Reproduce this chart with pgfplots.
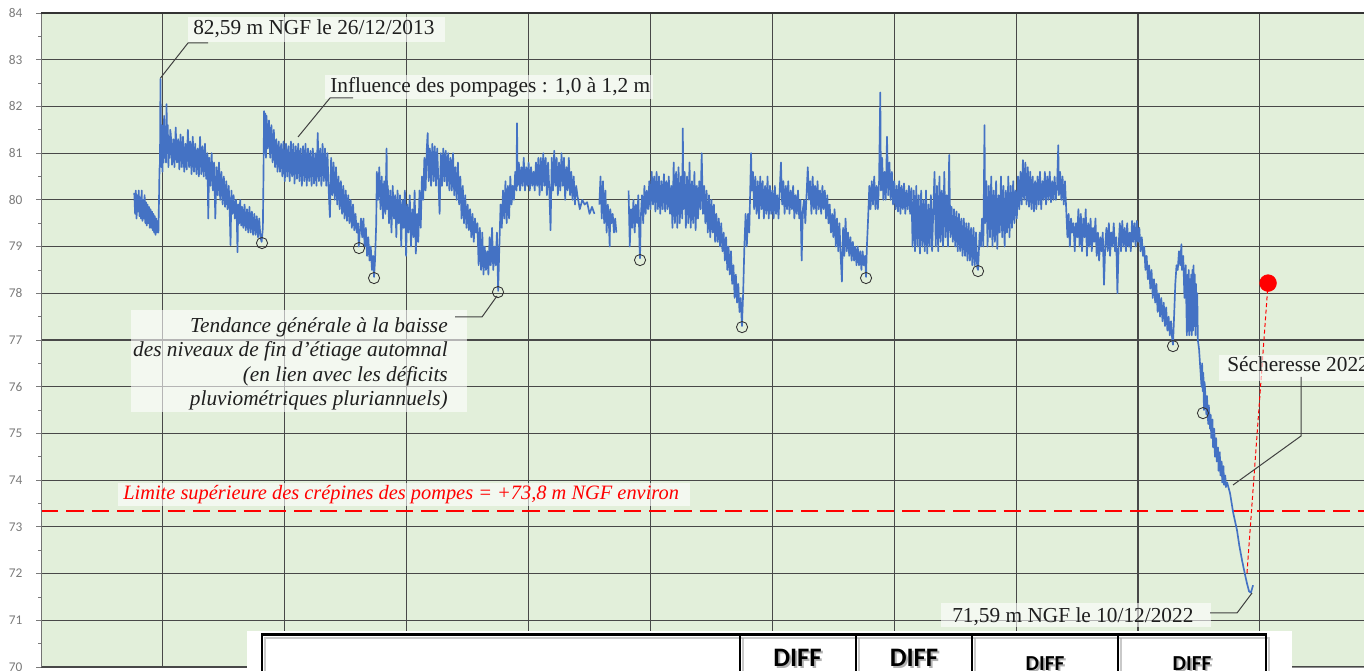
\documentclass[border=0pt]{standalone}
\usepackage{pgfplots}
\pgfplotsset{compat=1.18}
\usepackage{fontspec}
\setmainfont{Liberation Serif}
\newfontfamily\carlito{Carlito}
\definecolor{bgc}{HTML}{E2EFDA}
\definecolor{serie}{HTML}{4472C4}
\definecolor{gridc}{HTML}{484848}
\definecolor{tickc}{HTML}{7A7A7A}
\begin{document}
\begin{tikzpicture}
\path[use as bounding box] (0,0) rectangle (1023pt,503.25pt);
\begin{axis}[
  at={(30.75pt,3pt)}, anchor=south west,
  width=992.25pt, height=490.5pt, scale only axis,
  xmin=2013, xmax=2023.853, ymin=70, ymax=84,
  axis background/.style={fill=bgc},
  axis line style={draw=none},
  xtick={2014,...,2023}, xticklabels={}, xtick style={draw=none},
  ytick={70,...,84}, minor y tick num=1,
  xmajorgrids, ymajorgrids,
  major grid style={gridc, line width=0.85pt},
  tick align=outside,
  ytick style={tickc, line width=0.6pt},
  major tick length=3.75pt, minor tick length=2.25pt,
  yticklabel style={font=\carlito\fontsize{10}{12}\selectfont, text=tickc, anchor=east, inner sep=0pt, xshift=-10pt},
  /pgf/number format/assume math mode=true,
  unbounded coords=jump,
  clip=true,
]
% red dashed limit line
\addplot[red, line width=1.1pt, dash pattern=on 13pt off 6pt] coordinates {(2013,73.34)(2023.853,73.34)};
% water level series
\addplot[serie, line width=1.25pt, line join=round] coordinates {
(2013.765,80.15)(2013.772,79.7)(2013.778,80.2)(2013.784,79.6)(2013.79,80.1)(2013.796,79.75)(2013.802,80.2)(2013.808,79.65)(2013.814,80.05)(2013.82,79.6)(2013.826,80.2)(2013.832,79.55)(2013.838,80.0)(2013.844,79.6)(2013.85,80.1)(2013.856,79.5)(2013.862,79.95)(2013.868,79.45)(2013.874,79.9)(2013.88,79.5)(2013.886,79.85)(2013.892,79.4)(2013.898,79.8)(2013.904,79.4)(2013.91,79.75)(2013.916,79.35)(2013.922,79.7)(2013.928,79.3)(2013.934,79.65)(2013.94,79.25)(2013.946,79.6)(2013.952,79.3)(2013.958,79.55)(2013.963,79.3)
(2013.968,80.0)(2013.972,80.65)(2013.976,80.8)(2013.98,82.59)(2013.984,81.3)(2013.988,80.7)(2013.992,81.6)(2013.996,80.6)(2014.0,81.2)(2014.005,80.8)(2014.01,81.8)(2014.015,80.9)(2014.02,81.4)(2014.025,80.8)(2014.03,82.05)(2014.035,81.0)(2014.04,81.6)(2014.045,80.7)(2014.05,81.3)(2014.055,80.9)(2014.06,81.5)
(2014.065,81.4)(2014.075,80.75)(2014.085,81.3)(2014.095,80.7)(2014.105,81.55)(2014.115,80.8)(2014.125,81.3)(2014.135,80.65)(2014.145,81.4)(2014.155,80.7)(2014.165,81.35)(2014.175,80.6)(2014.185,81.2)(2014.195,80.65)(2014.205,81.5)(2014.215,80.7)(2014.225,81.25)(2014.235,80.55)(2014.245,81.35)(2014.255,80.6)(2014.265,81.2)(2014.275,80.55)(2014.285,81.1)(2014.295,80.5)(2014.305,81.35)(2014.315,80.55)(2014.325,81.15)(2014.335,80.5)(2014.345,81.2)(2014.355,80.45)(2014.365,81.0)(2014.372,79.6)(2014.38,80.9)(2014.39,80.3)(2014.4,81.0)(2014.41,80.2)(2014.42,80.8)(2014.43,79.6)(2014.44,80.7)(2014.45,80.1)(2014.46,80.8)(2014.47,80.0)(2014.48,80.6)(2014.49,79.9)(2014.5,80.5)(2014.51,79.85)(2014.52,80.4)(2014.53,79.8)(2014.54,80.3)(2014.548,79.75)(2014.555,79.03)(2014.562,80.2)(2014.57,79.7)(2014.58,80.1)(2014.59,79.6)(2014.6,80.0)(2014.607,79.5)(2014.612,78.88)(2014.618,79.9)(2014.626,79.5)(2014.634,80.0)(2014.642,79.45)(2014.65,79.85)(2014.66,79.4)(2014.67,79.9)(2014.68,79.35)(2014.69,79.8)(2014.7,79.3)(2014.71,79.85)(2014.72,79.3)(2014.73,79.75)(2014.74,79.25)(2014.75,79.7)(2014.76,79.25)(2014.77,79.65)(2014.78,79.2)(2014.79,79.6)(2014.8,79.2)(2014.81,79.1)
(2014.82,79.4)(2014.825,80.5)(2014.83,81.9)(2014.835,81.0)(2014.84,81.85)(2014.845,80.9)(2014.85,81.8)(2014.86,81.1)(2014.87,81.7)(2014.88,80.9)(2014.89,81.6)(2014.9,80.8)(2014.91,81.5)(2014.92,80.7)(2014.93,81.3)(2014.94,80.6)(2014.95,81.25)(2014.96,80.6)(2014.97,81.2)(2014.98,80.5)(2014.99,81.25)(2015.0,80.4)(2015.01,81.2)(2015.02,80.5)(2015.03,81.15)(2015.04,80.4)(2015.05,81.25)(2015.06,80.5)(2015.07,81.2)(2015.08,80.35)(2015.09,81.15)(2015.1,80.45)(2015.11,81.2)(2015.12,80.4)(2015.13,81.1)(2015.14,80.3)(2015.15,81.15)(2015.16,80.4)(2015.17,81.2)(2015.18,80.3)(2015.19,81.1)(2015.2,80.4)(2015.21,81.05)(2015.22,80.3)(2015.23,81.1)(2015.24,80.35)(2015.25,81.0)(2015.26,80.3)(2015.27,81.43)(2015.28,80.4)(2015.29,81.1)(2015.3,80.3)(2015.31,81.2)(2015.32,80.4)(2015.33,81.1)(2015.34,80.3)(2015.35,81.0)(2015.36,80.2)(2015.37,79.63)(2015.38,80.9)(2015.39,80.1)(2015.4,80.8)(2015.41,80.0)(2015.42,80.7)(2015.43,79.9)(2015.44,80.5)(2015.45,79.8)(2015.46,80.4)(2015.47,79.7)(2015.48,80.3)(2015.49,79.6)(2015.5,80.2)(2015.51,79.55)(2015.52,80.1)(2015.53,79.5)(2015.54,80.0)(2015.55,79.4)(2015.56,79.9)(2015.57,79.35)(2015.58,79.7)(2015.59,79.3)(2015.6,79.5)(2015.607,79.0)
(2015.615,79.3)(2015.625,79.6)(2015.635,79.2)(2015.645,79.6)(2015.655,79.0)(2015.665,79.4)(2015.675,78.8)(2015.685,79.2)(2015.695,78.7)(2015.705,79.0)(2015.715,78.5)(2015.725,78.8)(2015.732,78.35)(2015.74,78.7)(2015.75,79.5)(2015.755,80.6)(2015.765,80.0)(2015.775,80.7)(2015.785,79.8)(2015.795,80.5)(2015.805,79.6)(2015.815,80.4)(2015.825,79.7)(2015.835,81.1)(2015.84,79.8)
(2015.845,80.3)(2015.855,79.5)(2015.865,80.2)(2015.875,79.3)(2015.885,80.3)(2015.895,79.6)(2015.905,80.1)(2015.915,79.2)(2015.925,80.2)(2015.935,79.5)(2015.945,80.1)(2015.955,79.0)(2015.965,80.0)(2015.975,79.4)(2015.985,80.2)(2015.995,78.8)(2016.005,79.9)(2016.015,79.3)(2016.025,80.1)(2016.035,79.0)(2016.045,79.8)(2016.055,79.2)(2016.065,80.2)(2016.075,78.85)(2016.085,79.7)(2016.095,79.1)(2016.105,80.2)(2016.115,79.4)(2016.125,80.5)(2016.135,80.0)(2016.145,80.9)(2016.155,80.2)(2016.165,81.1)(2016.172,81.43)(2016.18,80.4)(2016.19,81.1)(2016.2,80.3)(2016.21,81.2)(2016.22,80.4)(2016.23,81.15)(2016.24,80.3)(2016.25,81.1)(2016.26,80.4)(2016.27,79.7)(2016.28,81.0)(2016.29,80.3)(2016.3,81.1)(2016.31,80.4)(2016.32,81.05)(2016.33,80.3)(2016.34,81.0)(2016.35,80.2)(2016.36,80.9)(2016.37,80.2)(2016.38,81.0)(2016.39,80.1)(2016.4,80.7)(2016.41,80.0)(2016.42,80.8)(2016.43,79.9)(2016.44,80.5)(2016.45,79.6)(2016.46,80.3)(2016.47,79.5)(2016.48,80.1)(2016.49,79.4)(2016.5,79.9)(2016.51,79.35)(2016.52,79.8)(2016.53,79.2)(2016.54,79.7)(2016.55,79.1)(2016.56,79.6)(2016.57,79.3)(2016.58,79.5)(2016.59,78.6)(2016.6,79.4)(2016.61,78.5)(2016.62,79.3)(2016.63,78.4)(2016.64,79.0)(2016.65,78.5)(2016.66,78.9)(2016.67,78.4)(2016.68,79.2)(2016.69,78.6)(2016.7,79.4)(2016.71,78.5)(2016.72,79.0)(2016.73,78.6)(2016.74,79.3)(2016.75,78.05)(2016.76,79.0)(2016.77,79.9)(2016.78,79.4)(2016.79,80.2)(2016.8,79.6)(2016.81,80.4)(2016.82,79.5)(2016.83,80.3)(2016.84,79.6)(2016.85,80.5)(2016.86,79.9)(2016.87,80.3)(2016.88,80.0)(2016.89,80.6)(2016.9,80.2)(2016.905,81.64)(2016.91,80.3)(2016.92,80.8)(2016.93,80.2)(2016.94,80.7)(2016.95,80.3)(2016.96,80.9)(2016.97,80.2)(2016.98,80.7)(2016.99,80.3)(2017.0,80.8)(2017.01,80.2)(2017.02,80.7)(2017.03,80.3)(2017.04,80.6)(2017.05,80.2)(2017.06,80.8)(2017.07,80.3)(2017.08,80.9)(2017.09,80.1)(2017.1,80.9)(2017.11,80.2)(2017.12,81.0)(2017.13,80.3)(2017.14,80.9)(2017.15,80.1)(2017.16,80.8)(2017.17,80.2)(2017.18,79.35)(2017.19,80.9)(2017.2,80.2)(2017.21,81.05)(2017.22,80.3)(2017.23,80.9)(2017.24,80.1)(2017.25,80.8)(2017.26,80.2)(2017.27,81.0)(2017.28,80.3)(2017.29,80.9)(2017.3,80.0)(2017.31,80.7)(2017.32,80.2)(2017.33,80.9)(2017.34,80.1)(2017.35,80.6)(2017.36,80.0)(2017.37,80.5)(2017.38,79.9)(2017.39,80.3)(2017.4,80.1)(2017.42,79.8)(2017.44,80.0)(2017.46,79.9)(2017.48,79.95)(2017.5,79.7)(2017.52,79.85)(2017.54,79.7)
(2017.55,nan)
(2017.58,79.9)(2017.59,80.5)(2017.6,79.6)(2017.61,80.4)(2017.62,79.5)(2017.63,80.2)(2017.64,79.3)(2017.65,79.9)(2017.66,79.4)(2017.665,79.0)(2017.67,79.8)(2017.68,79.5)(2017.69,79.7)(2017.7,79.3)(2017.71,79.6)(2017.72,79.3)
(2017.75,nan)
(2017.82,80.2)(2017.83,79.0)(2017.84,79.8)(2017.85,79.4)(2017.86,80.0)(2017.87,79.3)(2017.88,79.9)(2017.89,79.5)(2017.9,80.1)(2017.91,79.0)(2017.914,78.75)(2017.92,79.6)(2017.93,80.1)(2017.94,79.5)(2017.95,80.3)(2017.96,79.7)(2017.97,80.2)(2017.98,79.8)(2017.99,80.4)(2018.0,79.8)(2018.01,80.6)(2018.02,79.9)(2018.03,80.5)(2018.04,79.75)(2018.05,80.6)(2018.06,79.8)(2018.07,80.5)(2018.08,79.7)(2018.09,80.4)(2018.1,79.8)(2018.11,80.55)(2018.12,79.75)(2018.13,80.4)(2018.14,79.8)(2018.15,80.5)(2018.16,79.7)(2018.17,80.3)(2018.18,79.4)(2018.19,80.8)(2018.2,79.5)(2018.21,80.6)(2018.22,79.4)(2018.23,80.7)(2018.24,79.5)(2018.25,80.5)(2018.26,79.6)(2018.265,81.53)(2018.27,79.8)(2018.28,80.6)(2018.29,79.4)(2018.3,80.5)(2018.31,79.5)(2018.32,80.8)(2018.33,79.4)(2018.34,80.4)(2018.35,79.5)(2018.36,80.6)(2018.37,79.35)(2018.38,80.3)(2018.39,79.6)(2018.4,80.4)(2018.41,79.8)(2018.42,81.0)(2018.43,79.7)(2018.44,80.3)(2018.45,79.5)(2018.46,80.2)(2018.47,79.3)(2018.48,80.1)(2018.49,79.2)(2018.5,80.0)(2018.51,79.3)(2018.52,79.9)(2018.53,79.1)(2018.54,79.7)(2018.55,79.1)(2018.56,79.6)(2018.57,79.0)(2018.58,79.5)(2018.59,78.9)(2018.6,79.3)(2018.61,78.7)(2018.62,79.2)(2018.63,78.5)(2018.64,79.0)(2018.65,78.4)(2018.66,78.9)(2018.67,78.2)(2018.68,78.6)(2018.69,77.9)(2018.7,78.4)(2018.71,77.8)(2018.72,78.2)(2018.73,77.6)(2018.74,77.9)(2018.75,77.3)(2018.76,78.0)(2018.77,79.0)(2018.78,79.7)(2018.79,79.0)(2018.8,79.7)(2018.81,79.3)(2018.825,81.0)(2018.83,80.2)(2018.84,80.6)(2018.85,79.8)(2018.86,80.5)(2018.87,79.7)(2018.88,80.4)(2018.89,79.6)(2018.9,80.5)(2018.91,79.8)(2018.92,80.4)(2018.93,79.6)(2018.94,80.3)(2018.95,79.7)(2018.96,80.5)(2018.97,79.6)(2018.98,80.3)(2018.99,79.7)(2019.0,80.2)(2019.01,79.6)(2019.02,80.3)(2019.03,79.7)(2019.04,80.1)(2019.05,79.6)(2019.06,80.2)(2019.07,80.8)(2019.08,79.9)(2019.09,80.4)(2019.1,79.7)(2019.11,80.3)(2019.12,79.8)(2019.13,80.4)(2019.14,79.7)(2019.15,80.2)(2019.16,79.8)(2019.17,80.3)(2019.18,79.6)(2019.19,80.1)(2019.2,79.7)(2019.21,80.2)(2019.22,79.6)(2019.23,80.0)(2019.24,78.7)(2019.25,79.8)(2019.26,80.0)(2019.27,79.5)(2019.28,80.1)(2019.29,80.7)(2019.3,80.0)(2019.31,80.4)(2019.32,79.7)(2019.33,80.5)(2019.34,79.8)(2019.35,80.3)(2019.36,79.7)(2019.37,80.4)(2019.38,79.8)(2019.39,80.2)(2019.4,79.7)(2019.41,80.3)(2019.42,79.8)(2019.43,80.2)(2019.44,79.6)(2019.45,80.1)(2019.46,79.5)(2019.47,79.9)(2019.48,79.3)(2019.49,79.7)(2019.5,79.2)(2019.51,79.8)(2019.52,79.0)(2019.53,79.6)(2019.54,78.9)(2019.55,79.5)(2019.56,78.8)(2019.57,78.25)(2019.58,79.4)(2019.59,78.8)(2019.6,79.6)(2019.61,78.9)(2019.62,79.3)(2019.63,78.8)(2019.64,79.2)(2019.65,78.7)(2019.66,79.1)(2019.67,78.7)(2019.68,79.0)(2019.69,78.6)(2019.7,79.0)(2019.71,78.6)(2019.72,78.9)(2019.73,78.5)(2019.74,78.9)(2019.75,78.6)(2019.76,78.8)(2019.768,78.35)(2019.775,79.0)(2019.785,79.6)(2019.795,80.3)(2019.805,79.8)(2019.815,80.4)(2019.825,79.9)(2019.835,80.5)(2019.845,79.8)(2019.855,80.3)(2019.865,79.8)(2019.875,80.4)(2019.885,82.3)(2019.89,80.2)(2019.9,80.9)(2019.91,80.0)(2019.92,80.6)(2019.93,80.0)(2019.94,81.35)(2019.95,80.1)(2019.96,80.8)(2019.97,80.0)(2019.98,80.6)(2019.99,79.9)(2020.0,80.4)(2020.01,79.8)(2020.02,80.3)(2020.03,79.75)(2020.04,80.4)(2020.05,79.7)(2020.06,80.3)(2020.07,79.8)(2020.08,80.35)(2020.09,79.7)(2020.1,80.2)(2020.11,79.8)(2020.12,80.3)(2020.13,79.7)(2020.14,80.25)(2020.15,79.0)(2020.16,80.2)(2020.17,78.9)(2020.18,80.3)(2020.19,79.0)(2020.2,80.1)(2020.21,78.85)(2020.22,80.2)(2020.23,79.0)(2020.24,80.0)(2020.25,78.9)(2020.26,80.2)(2020.27,78.85)(2020.28,79.9)(2020.29,79.0)(2020.3,80.1)(2020.31,78.9)(2020.32,79.8)(2020.33,80.6)(2020.34,79.0)(2020.35,80.3)(2020.36,78.9)(2020.37,80.5)(2020.38,79.1)(2020.39,80.2)(2020.4,79.0)(2020.41,80.6)(2020.42,79.2)(2020.43,80.1)(2020.44,79.0)(2020.45,80.96)(2020.46,79.2)(2020.47,79.85)(2020.48,79.1)(2020.49,79.8)(2020.5,79.0)(2020.51,79.75)(2020.52,78.9)(2020.53,79.7)(2020.54,78.9)(2020.55,79.6)(2020.56,78.8)(2020.57,79.6)(2020.58,78.8)(2020.59,79.5)(2020.6,78.7)(2020.61,79.5)(2020.62,78.7)(2020.63,79.4)(2020.64,78.6)(2020.65,79.4)(2020.66,78.6)(2020.67,79.3)(2020.68,78.55)(2020.687,78.5)(2020.7,79.3)(2020.71,79.0)(2020.72,79.6)(2020.73,79.0)(2020.74,81.6)(2020.745,79.5)(2020.755,80.4)(2020.765,79.0)(2020.775,80.3)(2020.785,79.2)(2020.795,80.5)(2020.805,79.0)(2020.815,80.2)(2020.825,79.1)(2020.835,80.4)(2020.845,78.95)(2020.855,80.1)(2020.865,79.3)(2020.875,80.5)(2020.885,79.2)(2020.895,80.3)(2020.905,79.0)(2020.915,80.2)(2020.925,79.3)(2020.935,80.5)(2020.945,79.2)(2020.955,80.3)(2020.965,79.4)(2020.975,80.4)(2020.985,79.5)(2020.995,80.2)(2021.005,79.6)(2021.015,80.5)(2021.025,79.8)(2021.035,80.6)(2021.045,79.9)(2021.055,80.85)(2021.065,80.0)(2021.075,80.8)(2021.085,79.9)(2021.095,80.7)(2021.105,79.85)(2021.115,80.6)(2021.125,79.8)(2021.135,80.5)(2021.145,79.75)(2021.155,80.4)(2021.165,79.8)(2021.175,80.5)(2021.185,79.9)(2021.195,80.6)(2021.205,79.8)(2021.215,80.4)(2021.225,80.0)(2021.235,80.6)(2021.245,79.9)(2021.255,80.5)(2021.265,80.0)(2021.275,80.6)(2021.285,79.95)(2021.295,80.4)(2021.305,80.0)(2021.315,80.5)(2021.325,80.0)(2021.335,80.3)(2021.345,81.17)(2021.35,80.1)(2021.36,80.6)(2021.37,80.0)(2021.38,80.5)(2021.39,79.9)(2021.4,80.4)(2021.41,79.8)(2021.42,79.2)(2021.43,79.7)(2021.44,79.0)(2021.45,79.6)(2021.46,79.3)(2021.47,79.5)(2021.48,78.9)(2021.49,79.5)(2021.5,79.2)(2021.51,79.8)(2021.52,79.0)(2021.53,79.7)(2021.54,78.9)(2021.55,79.6)(2021.56,79.2)(2021.57,79.8)(2021.58,78.8)(2021.59,79.5)(2021.6,79.0)(2021.61,79.6)(2021.62,78.9)(2021.63,79.4)(2021.64,79.1)(2021.65,79.6)(2021.66,78.8)(2021.67,79.3)(2021.68,78.7)(2021.69,79.2)(2021.7,78.9)(2021.71,79.3)(2021.72,78.18)(2021.73,79.0)(2021.74,79.4)(2021.75,78.9)(2021.76,79.5)(2021.77,78.8)(2021.78,79.3)(2021.79,79.0)(2021.8,79.5)(2021.81,78.9)(2021.82,79.2)(2021.83,78.0)(2021.84,79.0)(2021.85,79.5)(2021.86,78.9)(2021.87,79.55)(2021.88,79.0)(2021.89,79.4)(2021.9,78.9)(2021.91,79.5)(2021.92,79.0)(2021.93,79.3)(2021.94,78.9)(2021.95,79.55)(2021.96,79.1)(2021.97,79.5)(2021.98,79.0)(2021.99,79.55)(2022.0,79.1)(2022.01,79.4)(2022.02,78.9)(2022.03,79.2)(2022.04,78.8)(2022.05,79.0)(2022.06,78.5)(2022.07,78.8)(2022.08,78.3)(2022.09,78.6)(2022.1,78.1)(2022.11,78.5)(2022.12,77.9)(2022.13,78.3)(2022.14,77.8)(2022.15,78.2)(2022.16,77.6)(2022.17,78.0)(2022.18,77.5)(2022.19,77.9)(2022.2,77.4)(2022.21,77.8)(2022.22,77.3)(2022.23,77.7)(2022.24,77.2)(2022.25,77.5)(2022.26,77.1)(2022.27,77.4)(2022.28,77.0)(2022.286,76.9)(2022.295,77.5)(2022.305,78.2)(2022.315,78.6)(2022.325,78.5)(2022.335,78.9)(2022.345,78.6)(2022.355,79.05)(2022.36,78.5)(2022.37,78.8)(2022.38,77.9)(2022.39,78.6)(2022.4,77.1)(2022.405,78.4)(2022.41,77.2)(2022.415,78.5)(2022.42,77.1)(2022.425,78.3)(2022.43,77.2)(2022.435,78.4)(2022.44,77.1)(2022.445,78.5)(2022.45,77.2)(2022.455,78.6)(2022.46,77.3)(2022.465,78.4)(2022.47,77.1)(2022.475,78.2)(2022.48,77.3)(2022.485,78.0)(2022.49,77.0)
(2022.5,76.8)(2022.51,76.4)(2022.52,76.0)(2022.525,76.5)(2022.53,75.9)(2022.535,76.3)(2022.54,75.5)(2022.545,76.1)(2022.55,75.9)(2022.56,75.4)(2022.565,75.8)(2022.575,75.2)(2022.58,75.6)(2022.59,75.1)(2022.595,75.4)(2022.6,74.9)(2022.61,75.3)(2022.615,74.7)(2022.625,75.1)(2022.63,74.5)(2022.64,74.9)(2022.645,74.4)(2022.655,74.7)(2022.66,74.2)(2022.67,74.6)(2022.675,74.1)(2022.685,74.4)(2022.69,73.95)(2022.7,74.3)(2022.705,73.9)(2022.715,74.1)(2022.72,73.85)(2022.73,73.95)
(2022.754,73.72)(2022.78,73.3)(2022.811,72.93)(2022.83,72.6)(2022.852,72.29)(2022.875,72.0)(2022.893,71.79)(2022.91,71.62)(2022.925,71.59)(2022.943,71.75)
};
% autumn low-water circles
\addplot[only marks, mark=o, mark size=4.2pt, mark options={draw=black!80, line width=0.65pt}] coordinates {
(2014.813,79.075)(2015.609,78.968)(2015.732,78.326)(2016.749,78.026)(2017.914,78.711)(2018.751,77.276)(2019.768,78.326)(2020.687,78.475)(2022.286,76.869)(2022.532,75.435)
};
% red dotted projection
\addplot[red, line width=0.75pt, dash pattern=on 3pt off 2pt] coordinates {(2023.066,78.218)(2022.893,72.009)};
\addplot[only marks, mark=*, mark size=6.3pt, mark options={fill=red, draw=red}] coordinates {(2023.066,78.218)};
\end{axis}
% annotations in pixel coordinates (origin top-left)
\begin{scope}[x=0.75pt, y=-0.75pt, shift={(0pt,503.25pt)}]
\tikzset{ann/.style={font=\fontsize{16}{19}\selectfont, text=black!88, inner sep=0pt},
         lead/.style={draw=black!75, line width=0.75pt},
         box/.style={fill=white, fill opacity=0.6, draw=none}}
% 82,59
\fill[box] (188,17) rectangle (445,42);
\node[ann, anchor=base west] at (193,35) {82,59 m NGF le 26/12/2013};
\draw[lead] (160.5,78) -- (188,43) -- (208,43);
% Influence
\fill[box] (325,75) rectangle (653,99);
\node[ann, anchor=base west] at (330,93) {Influence des pompages : 1,0 à 1,2 m};
\draw[lead] (298,137) -- (330,98) -- (353,98);
% Tendance
\fill[box] (131,310) rectangle (467,412);
\node[ann, font=\itshape\fontsize{16}{18.4}\selectfont, anchor=base east] at (448,333) {Tendance générale à la baisse};
\node[ann, font=\itshape\fontsize{16}{18.4}\selectfont, anchor=base east] at (448,357) {des niveaux de fin d’étiage automnal};
\node[ann, font=\itshape\fontsize{16}{18.4}\selectfont, anchor=base east] at (448,382) {(en lien avec les déficits};
\node[ann, font=\itshape\fontsize{16}{18.4}\selectfont, anchor=base east] at (448,406) {pluviométriques pluriannuels)};
\draw[lead] (497,296) -- (482,317) -- (455,317);
% red limit label
\fill[box] (118,483) rectangle (690,506);
\node[ann, font=\itshape\fontsize{15.3}{18}\selectfont, text=red, anchor=base west] at (123,500) {Limite supérieure des crépines des pompes = +73,8 m NGF environ};
% Secheresse
\fill[box] (1219,355) rectangle (1380,381);
\node[ann, anchor=base west] at (1227,372) {Sécheresse 2022};
\draw[lead] (1233,485) -- (1301,436) -- (1301,377);
% 71,59
\fill[box] (941,603) rectangle (1211,627);
\node[ann, anchor=base west] at (952,623) {71,59 m NGF le 10/12/2022};
\draw[lead] (1252,593) -- (1237,613) -- (1210,613);
% table
\fill[white] (247,631) rectangle (1292,690);
\begin{scope}[black!35, line width=1.9pt, opacity=0.6]
\draw (265,690) -- (265,638) -- (1269,638) -- (1269,690);
\foreach \xx in {743,859,975,1121} \draw (\xx,638) -- (\xx,690);
\end{scope}
\draw[line width=1.9pt] (262,690) -- (262,634.5) -- (1266,634.5) -- (1266,690);
\foreach \xx in {740,856,972,1118} \draw[line width=1.9pt] (\xx,634.5) -- (\xx,690);
\node[font=\carlito\bfseries\fontsize{20}{22}\selectfont, text=black!30, anchor=base, inner sep=0pt] at (799.5,669) {DIFF};
\node[font=\carlito\bfseries\fontsize{20}{22}\selectfont, text=black!30, anchor=base, inner sep=0pt] at (916,669) {DIFF};
\node[font=\carlito\bfseries\fontsize{20}{22}\selectfont, anchor=base, inner sep=0pt] at (797.5,667) {DIFF};
\node[font=\carlito\bfseries\fontsize{20}{22}\selectfont, anchor=base, inner sep=0pt] at (914,667) {DIFF};
\node[font=\carlito\bfseries\fontsize{16}{18}\selectfont, text=black!30, anchor=base, inner sep=0pt] at (1047,673) {DIFF};
\node[font=\carlito\bfseries\fontsize{16}{18}\selectfont, text=black!30, anchor=base, inner sep=0pt] at (1194,673) {DIFF};
\node[font=\carlito\bfseries\fontsize{16}{18}\selectfont, anchor=base, inner sep=0pt] at (1045,671) {DIFF};
\node[font=\carlito\bfseries\fontsize{16}{18}\selectfont, anchor=base, inner sep=0pt] at (1192,671) {DIFF};
% frame lines of the plot area
\draw[black!55, line width=0.75pt] (41,667) -- (41,13);
\draw[black!80, line width=1pt] (41,13) -- (1364,13);
\draw[black!45, line width=0.75pt] (1292,667.5) -- (1364,667.5);
\end{scope}
\end{tikzpicture}
\end{document}
